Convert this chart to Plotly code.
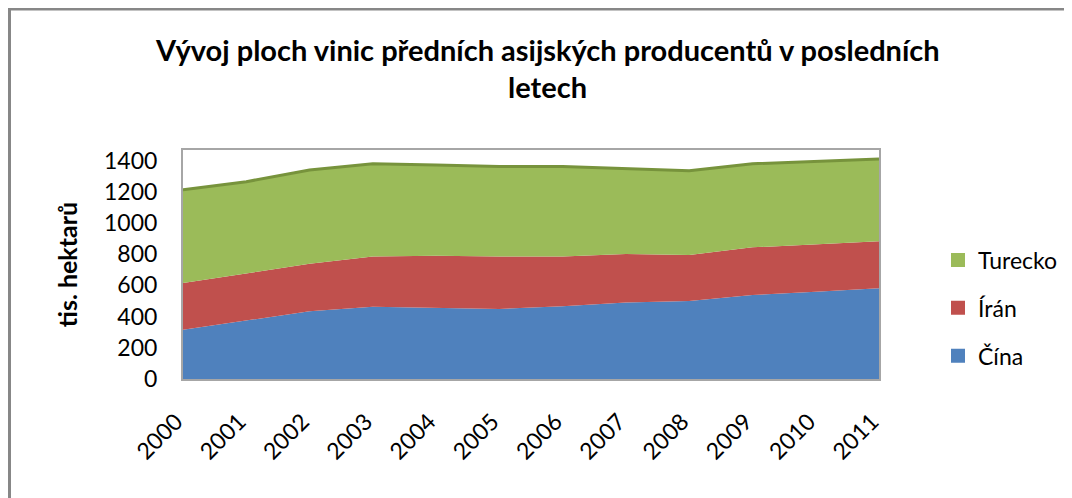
import plotly.graph_objects as go

years = [2000, 2001, 2002, 2003, 2004, 2005, 2006, 2007, 2008, 2009, 2010, 2011]
cina = [316, 374, 434, 463, 455, 449, 466, 491, 500, 538, 560, 581]
iran = [299, 304, 305, 323, 335, 337, 320, 310, 295, 306, 305, 302]
turecko = [598, 587, 601, 594, 582, 577, 577, 549, 540, 536, 532, 527]
y_ticks = [0, 200, 400, 600, 800, 1000, 1200, 1400]

series = [
    ("Čína", cina, "#4F81BD", None),
    ("Írán", iran, "#C0504D", None),
    ("Turecko", turecko, "#9BBB59", "#77933C"),
]

FONT = "Lato, 'Open Sans', sans-serif"

# plot area in figure pixels
L, T, R, B = 175, 142, 201, 127
W, H = 1072, 498
PW, PH = W - L - R, H - T - B
px = lambda x: (x - L) / PW
py = lambda y: (H - B - y) / PH

fig = go.Figure()
for name, vals, color, edge in series:
    fig.add_trace(go.Scatter(
        x=years, y=vals, name=name, stackgroup="one", mode="lines",
        fillcolor=color,
        line=dict(color=edge if edge else color, width=3 if edge else 0),
        showlegend=False, hoverinfo="x+y+name",
    ))
for name, vals, color, edge in reversed(series):
    fig.add_trace(go.Scatter(
        x=[None], y=[None], name=name, mode="markers",
        marker=dict(symbol="square", size=14, color=color),
        legendgroup=name, showlegend=True,
    ))

fig.update_layout(
    width=W, height=H,
    margin=dict(l=L, r=R, t=T, b=B),
    paper_bgcolor="white", plot_bgcolor="white",
    font=dict(family=FONT, size=23, color="#000000"),
    showlegend=True,
    legend=dict(x=px(930), xanchor="left", y=py(300), yanchor="middle",
                traceorder="grouped", tracegroupgap=15, itemwidth=30,
                font=dict(size=23), bgcolor="rgba(0,0,0,0)"),
    xaxis=dict(range=[2000, 2011], tickvals=years, ticktext=[str(y) for y in years],
               tickangle=-45, showgrid=False, zeroline=False,
               showline=True, linecolor="#A6A6A6", linewidth=2, mirror=True,
               ticklabelstandoff=18, ticklabelshift=-7, tickfont=dict(size=23)),
    yaxis=dict(range=[0, 1468], tickvals=y_ticks, showgrid=False, zeroline=False,
               showline=True, linecolor="#A6A6A6", linewidth=2, mirror=True,
               ticklabelstandoff=19, tickfont=dict(size=23),
               title=dict(text="<b>tis. hektarů</b>", font=dict(size=25), standoff=19)),
    annotations=[
        dict(text="<b>Vývoj ploch vinic předních asijských producentů v posledních</b>",
             xref="paper", yref="paper", x=px(539), y=py(41),
             xanchor="center", yanchor="middle", showarrow=False, font=dict(size=29)),
        dict(text="<b>letech</b>",
             xref="paper", yref="paper", x=px(539), y=py(79),
             xanchor="center", yanchor="middle", showarrow=False, font=dict(size=29)),
    ],
    shapes=[
        dict(type="rect", xref="paper", yref="paper",
             x0=px(1.5), x1=px(1090), y0=py(520), y1=py(1),
             line=dict(color="#878787", width=3), fillcolor="rgba(0,0,0,0)", layer="below"),
    ],
)

fig.write_html("out.html")
